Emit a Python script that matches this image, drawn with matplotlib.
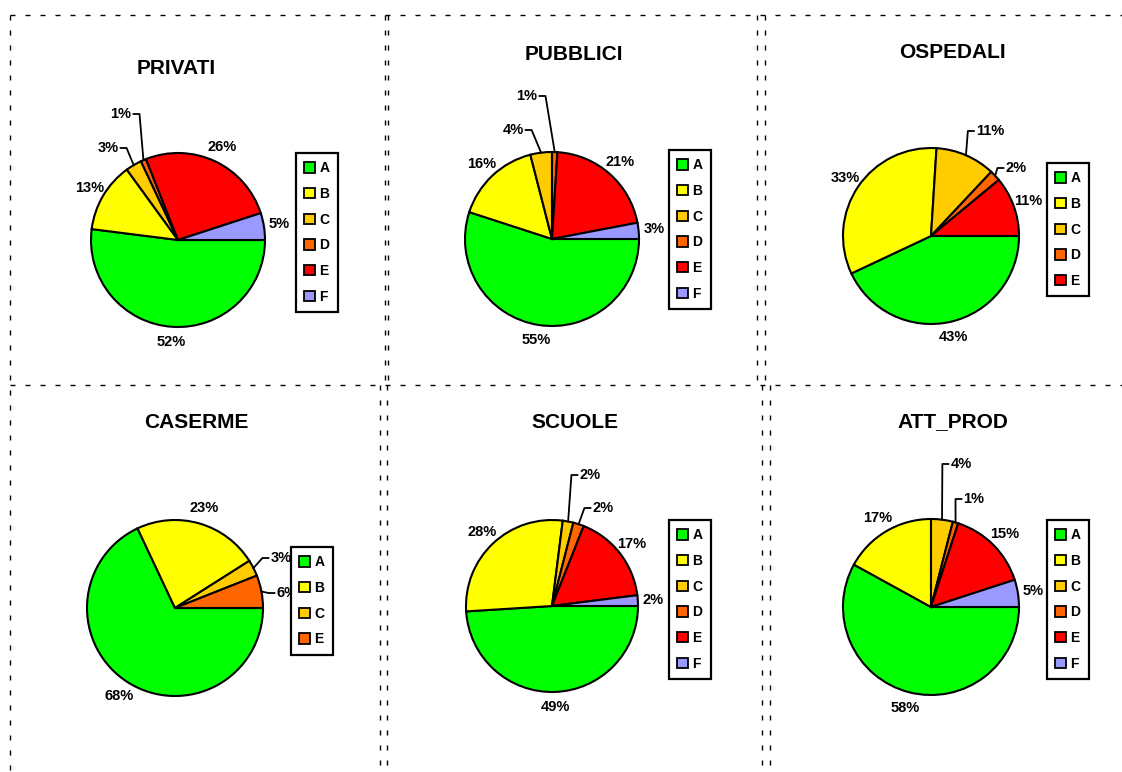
import matplotlib.pyplot as plt
from matplotlib.patches import Patch
import numpy as np

plt.rcParams['font.family'] = ['Liberation Sans', 'DejaVu Sans']
plt.rcParams['font.weight'] = 'bold'

W, H = 1122, 772

# dati
titles = ['PRIVATI', 'PUBBLICI', 'OSPEDALI', 'CASERME', 'SCUOLE', 'ATT_PROD']
classes = [
    ['A', 'B', 'C', 'D', 'E', 'F'],
    ['A', 'B', 'C', 'D', 'E', 'F'],
    ['A', 'B', 'C', 'D', 'E'],
    ['A', 'B', 'C', 'E'],
    ['A', 'B', 'C', 'D', 'E', 'F'],
    ['A', 'B', 'C', 'D', 'E', 'F'],
]
values = [
    [52, 13, 3, 1, 26, 5],
    [55, 16, 4, 1, 21, 3],
    [43, 33, 11, 2, 11],
    [68, 23, 3, 6],
    [49, 28, 2, 2, 17, 2],
    [58, 17, 4, 1, 15, 5],
]
palette = ['#00FF00', '#FFFF00', '#FFCC00', '#FF6600', '#FF0000', '#9999FF']

# posizioni in pixel (x, y dall'alto)
centers = [(178, 240), (552, 239), (931, 236), (175, 608), (552, 606), (931, 607)]
radius = [87, 87, 88, 88, 86, 88]
title_pos = [(176, 68), (574, 54), (952, 53), (196, 422), (575, 422), (953, 422)]
legend_pos = [(296, 153), (669, 150), (1047, 163), (291, 547), (669, 520), (1047, 520)]
# etichette con linea guida: (grafico, fetta) -> spostamento dal centro
leaders = {
    (0, 2): (-70, -92), (0, 3): (-57, -126),
    (1, 2): (-39, -109), (1, 3): (-25, -143),
    (2, 2): (59, -105), (2, 3): (85, -68),
    (3, 2): (106, -50), (3, 3): (112, -15),
    (4, 2): (38, -131), (4, 3): (51, -98),
    (5, 2): (30, -143), (5, 3): (43, -108),
}

fig = plt.figure(figsize=(W / 100, H / 100), dpi=100)
ax = fig.add_axes([0, 0, 1, 1])

pending = []  # etichette a cui aggiungere la linea guida
for k in range(len(titles)):
    cx, cy = centers[k]
    r = radius[k]
    vals = values[k]
    wedges, _ = ax.pie(vals, colors=palette[:len(vals)], startangle=0, counterclock=False,
                       center=(cx, H - cy), radius=r,
                       wedgeprops=dict(edgecolor='black', linewidth=1.5))
    for i, w in enumerate(wedges):
        ang = np.deg2rad((w.theta1 + w.theta2) / 2)
        txt = '%d%%' % vals[i]
        if (k, i) in leaders:
            dx, dy = leaders[(k, i)]
            t = ax.text(cx + dx, H - cy - dy, txt, ha='center', va='center', fontsize=10.5)
            ex = cx + r * np.cos(ang)
            ey = H - cy + r * np.sin(ang)
            pending.append((t, ex, ey))
        else:
            ax.text(cx + 1.18 * r * np.cos(ang), H - cy + 1.18 * r * np.sin(ang), txt,
                    ha='center', va='center', fontsize=10.5)

    tx, ty = title_pos[k]
    ax.text(tx, H - ty, titles[k], ha='center', va='center', fontsize=15)

    handles = [Patch(facecolor=palette[i], edgecolor='black', linewidth=1.3) for i in range(len(vals))]
    lx, ly = legend_pos[k]
    leg = fig.legend(handles, classes[k], loc='upper left', bbox_to_anchor=(lx / W, 1 - ly / H),
                     frameon=True, fancybox=False, edgecolor='black', framealpha=1, fontsize=10,
                     handlelength=0.8, handleheight=0.8, handletextpad=0.3, labelspacing=0.84,
                     borderpad=0.6, borderaxespad=0)
    leg.get_frame().set_linewidth(1.6)

ax.set_xlim(0, W)
ax.set_ylim(0, H)
ax.set_aspect('equal')
ax.axis('off')

# linee guida
fig.canvas.draw()
renderer = fig.canvas.get_renderer()
for t, ex, ey in pending:
    bb = t.get_window_extent(renderer)
    ymid = (bb.y0 + bb.y1) / 2
    if ex > (bb.x0 + bb.x1) / 2:
        x1, x2 = bb.x1 + 2, bb.x1 + 8
    else:
        x1, x2 = bb.x0 - 2, bb.x0 - 8
    ax.plot([x1, x2, ex], [ymid, ymid, ey], color='black', linewidth=1.3)

# bordi tratteggiati
dash = dict(color='black', linewidth=1, linestyle=(0, (3.6, 7.2)))
for y in [15, 385]:
    ax.plot([10, W], [H - y, H - y], **dash)
ax.plot([10, 10], [H - 15, 0], **dash)
for x in [385, 388, 757, 765]:
    ax.plot([x, x], [H - 15, H - 385], **dash)
for x in [380, 387, 762, 770]:
    ax.plot([x, x], [H - 385, 0], **dash)

fig.savefig('out.png', dpi=100)
